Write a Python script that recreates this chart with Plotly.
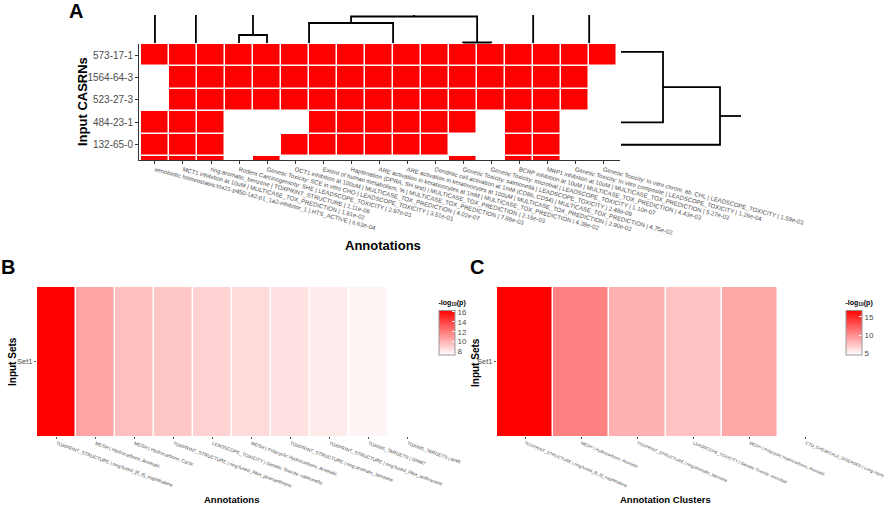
import plotly.graph_objects as go

W, H = 892, 506
def fx(p):
    return p / W
def fy(p):
    return 1 - p / H

FONT = "Liberation Sans, Arial, sans-serif"
NARROW = "Liberation Sans Narrow, Liberation Sans, Arial, sans-serif"
RED = "#FF0000"
TXT = "#4d4d4d"

# ---------------- Panel A data ----------------
casrns = ["573-17-1", "1564-64-3", "523-27-3", "484-23-1", "132-65-0"]
annotations_a = [
    "xenobiotic homeostasis:tox21-p450-1a2-p1_1a2-inhibitor_1 | HTS_ACTIVE | 6.63e-04",
    "MCT1 inhibition at 10uM | MULTICASE_TOX_PREDICTION | 1.81e-02",
    "ring:aromatic_benzene | TOXPRINT_STRUCTURE | 1.11e-08",
    "Rodent Carcinogenicity: SHE | LEADSCOPE_TOXICITY | 2.97e-03",
    "Genetic Toxicity: SCE in vitro CHO | LEADSCOPE_TOXICITY | 3.51e-03",
    "OCT1 inhibition at 100uM | MULTICASE_TOX_PREDICTION | 4.02e-07",
    "Extent of human metabolism, % | MULTICASE_TOX_PREDICTION | 7.89e-03",
    "Haptenation (DPRA, SH test) | MULTICASE_TOX_PREDICTION | 2.15e-03",
    "ARE activation in keratinocytes at 1mM | MULTICASE_TOX_PREDICTION | 4.39e-02",
    "ARE activation in keratinocytes at 100uM | MULTICASE_TOX_PREDICTION | 2.90e-02",
    "Dendritic cell activation at 1mM (CD86, CD54) | MULTICASE_TOX_PREDICTION | 4.75e-02",
    "Genetic Toxicity: salmonella | LEADSCOPE_TOXICITY | 2.48e-09",
    "Genetic Toxicity: microbial | LEADSCOPE_TOXICITY | 1.10e-07",
    "BCRP inhibition at 10uM | MULTICASE_TOX_PREDICTION | 4.43e-03",
    "MRP1 inhibition at 10uM | MULTICASE_TOX_PREDICTION | 5.27e-03",
    "Genetic Toxicity: In vitro composite | LEADSCOPE_TOXICITY | 1.26e-04",
    "Genetic Toxicity: In vitro chrom. ab. CHL | LEADSCOPE_TOXICITY | 1.59e-03",
]
# presence matrix (rows top->bottom); last row is only partially visible
presence = [
    [1, 1, 1, 1, 1, 1, 1, 1, 1, 1, 1, 1, 1, 1, 1, 1, 1],
    [0, 1, 1, 1, 1, 1, 1, 1, 1, 1, 1, 1, 1, 1, 1, 1, 0],
    [0, 1, 1, 1, 1, 1, 1, 1, 1, 1, 1, 1, 1, 1, 1, 1, 0],
    [1, 1, 1, 0, 0, 0, 1, 1, 1, 1, 1, 1, 0, 1, 1, 0, 0],
    [1, 1, 1, 0, 0, 1, 1, 1, 1, 1, 1, 0, 0, 1, 1, 0, 0],
    [1, 1, 1, 0, 1, 0, 0, 0, 0, 0, 0, 1, 0, 1, 1, 0, 0],
]

# column dendrogram (x in column units, h = merge height)
col_links_x = [[3, 3, 4, 4], [5.5, 5.5, 8.5, 8.5], [11, 11, 12, 12], [7, 7, 11.5, 11.5]]
col_links_h = [[0, 8, 8, 0], [0, 20, 20, 0], [0, 0.5, 0.5, 0], [20, 26.5, 26.5, 0.5]]
col_open_x = [0, 1.46, 3.5, 9.25, 13.5, 15.5]
col_open_h = [0, 0, 8, 26.5, 0, 0]
col_top = 28

# row dendrogram (y in row units, h = merge height)
row_links_y = [[-0.15, -0.15, 3, 3], [1.43, 1.43, 4, 4]]
row_links_h = [[0, 42, 42, 0], [42, 99, 99, 0]]
row_root_y = 2.715
row_root_h = [99, 120]

# ---------------- Panel B data ----------------
labels_b = [
    "TOXPRINT_STRUCTURE | ring:fused_[6_6]_naphthalene",
    "MESH | Hydrocarbons, Aromatic",
    "MESH | Hydrocarbons, Cyclic",
    "TOXPRINT_STRUCTURE | ring:fused_PAH_phenanthrene",
    "LEADSCOPE_TOXICITY | Genetic Toxicity: salmonella",
    "MESH | Polycyclic Hydrocarbons, Aromatic",
    "TOXPRINT_STRUCTURE | ring:aromatic_benzene",
    "TOXPRINT_STRUCTURE | ring:fused_PAH_anthracene",
    "TOXINS_TARGETS | GNMT",
    "TOXINS_TARGETS | AHR",
]
values_b = [16.3, 10.5, 9.55, 9.3, 8.85, 8.55, 8.35, 8.0, 7.65, 7.3]
ticks_b = [8, 10, 12, 14, 16]

# ---------------- Panel C data ----------------
labels_c = [
    "TOXPRINT_STRUCTURE | ring:fused_[6_6]_naphthalene",
    "MESH | Hydrocarbons, Aromatic",
    "TOXPRINT_STRUCTURE | ring:aromatic_benzene",
    "LEADSCOPE_TOXICITY | Genetic Toxicity: microbial",
    "MESH | Polycyclic Hydrocarbons, Aromatic",
    "CTD_CHEMICALS_DISEASES | Lung Injury",
]
values_c = [16.8, 10.6, 8.3, 7.4, 8.7, 4.5]
ticks_c = [5, 10, 15]

scale = [[0, "#FFFFFF"], [1, RED]]

fig = go.Figure()

# Panel A heatmap
fig.add_trace(go.Heatmap(
    z=presence, x=list(range(len(annotations_a))), y=list(range(len(presence))),
    colorscale=scale, zmin=0, zmax=1, showscale=False, xgap=1.5, ygap=1.5,
    xaxis="x", yaxis="y", hoverinfo="skip"))

# column dendrogram
dx, dy = [], []
for xs, hs in zip(col_links_x, col_links_h):
    dx += xs + [None]
    dy += hs + [None]
for x0, h0 in zip(col_open_x, col_open_h):
    dx += [x0, x0, None]
    dy += [h0, col_top, None]
fig.add_trace(go.Scatter(x=dx, y=dy, mode="lines", line=dict(color="black", width=1.8),
                         xaxis="x2", yaxis="y2", showlegend=False, hoverinfo="skip"))

# row dendrogram
rx, ry = [], []
for ys, hs in zip(row_links_y, row_links_h):
    rx += hs + [None]
    ry += ys + [None]
rx += row_root_h + [None]
ry += [row_root_y, row_root_y, None]
fig.add_trace(go.Scatter(x=rx, y=ry, mode="lines", line=dict(color="black", width=1.8),
                         xaxis="x3", yaxis="y3", showlegend=False, hoverinfo="skip"))

def cbar(x_px, ticks):
    return dict(
        x=fx(x_px), xanchor="left", y=fy(297), yanchor="top",
        len=58, lenmode="pixels", thickness=16, thicknessmode="pixels",
        xpad=0, ypad=0, outlinecolor="#999999", outlinewidth=1,
        tickvals=ticks, ticks="inside", ticklen=3, tickcolor="white",
        tickfont=dict(size=8, color=TXT, family=FONT),
        title=dict(text="<b>-log<sub>10</sub>(p)</b>", side="top",
                   font=dict(size=7, color="black", family=FONT)),
    )

fig.add_trace(go.Heatmap(
    z=[values_b], x=labels_b, y=["Set1"], colorscale=scale,
    zmin=min(values_b), zmax=max(values_b), xgap=1.5,
    colorbar=cbar(439, ticks_b), xaxis="x4", yaxis="y4", hoverinfo="skip"))

fig.add_trace(go.Heatmap(
    z=[values_c], x=labels_c, y=["Set1"], colorscale=scale,
    zmin=min(values_c), zmax=max(values_c), xgap=1.5,
    colorbar=cbar(846, ticks_c), xaxis="x5", yaxis="y5", hoverinfo="skip"))

hidden = dict(visible=False, showgrid=False, zeroline=False, automargin=False)

fig.update_layout(
    width=W, height=H, margin=dict(l=0, r=0, t=0, b=0),
    template="none", paper_bgcolor="white", plot_bgcolor="rgba(0,0,0,0)",
    font=dict(family=FONT, color=TXT), showlegend=False,
    xaxis=dict(domain=[fx(139), fx(620)], anchor="y", range=[-0.57, 16.6],
               tickvals=list(range(len(annotations_a))), ticktext=annotations_a,
               tickangle=15, tickfont=dict(size=6, color=TXT),
               ticks="outside", ticklen=3, tickcolor="#333333",
               showline=True, linecolor="#333333", linewidth=1,
               showgrid=False, zeroline=False, automargin=False),
    yaxis=dict(domain=[fy(160), fy(44)], anchor="x", range=[4.68, -0.5],
               tickvals=list(range(len(casrns))), ticktext=casrns,
               tickfont=dict(size=10, color=TXT),
               ticks="outside", ticklen=3, tickcolor="#333333",
               showline=True, linecolor="#333333", linewidth=1,
               showgrid=False, zeroline=False, automargin=False),
    xaxis2=dict(domain=[fx(139), fx(620)], anchor="y2", range=[-0.57, 16.6], **hidden),
    yaxis2=dict(domain=[fy(44), fy(12)], anchor="x2", range=[-1, 31], **hidden),
    xaxis3=dict(domain=[fx(621), fx(745)], anchor="y3", range=[0, 124], **hidden),
    yaxis3=dict(domain=[fy(160), fy(44)], anchor="x3", range=[4.68, -0.5], **hidden),
    xaxis4=dict(domain=[fx(37), fx(427)], anchor="y4", range=[-0.5, 9.5],
                tickangle=20, tickfont=dict(size=4.8, color=TXT, family=NARROW),
                ticks="outside", ticklen=2, tickcolor="#555555",
                showline=False, showgrid=False, zeroline=False, automargin=False),
    yaxis4=dict(domain=[fy(436), fy(287)], anchor="x4",
                tickfont=dict(size=7.5, color=TXT, family=NARROW),
                ticks="outside", ticklen=2, tickcolor="#555555",
                showline=False, showgrid=False, zeroline=False, automargin=False),
    xaxis5=dict(domain=[fx(497), fx(834)], anchor="y5", range=[-0.5, 5.5],
                tickangle=23, tickfont=dict(size=4.3, color=TXT, family=NARROW),
                ticks="outside", ticklen=2, tickcolor="#555555",
                showline=False, showgrid=False, zeroline=False, automargin=False),
    yaxis5=dict(domain=[fy(436), fy(287)], anchor="x5",
                tickfont=dict(size=7.5, color=TXT, family=NARROW),
                ticks="outside", ticklen=2, tickcolor="#555555",
                showline=False, showgrid=False, zeroline=False, automargin=False),
)

def note(text, x, y, size, angle=0, family=FONT):
    fig.add_annotation(text=text, x=fx(x), y=fy(y), xref="paper", yref="paper",
                       showarrow=False, textangle=angle, xanchor="center", yanchor="middle",
                       font=dict(size=size, color="black", family=family))

note("<b>A</b>", 76, 11, 20)
note("<b>B</b>", 8, 267, 20)
note("<b>C</b>", 477, 267, 20)
note("<b>Input CASRNs</b>", 83, 102, 13, -90)
note("<b>Annotations</b>", 383, 245, 13)
note("<b>Input Sets</b>", 12, 362, 10, -90, NARROW)
note("<b>Annotations</b>", 231, 499, 9.5, 0, NARROW)
note("<b>Input Sets</b>", 475, 363, 10, -90, NARROW)
note("<b>Annotation Clusters</b>", 665, 499, 9.5, 0, NARROW)

fig.write_html("out.html", config={"displayModeBar": False},
               post_script="document.body.style.margin='0';document.body.style.padding='0';")
